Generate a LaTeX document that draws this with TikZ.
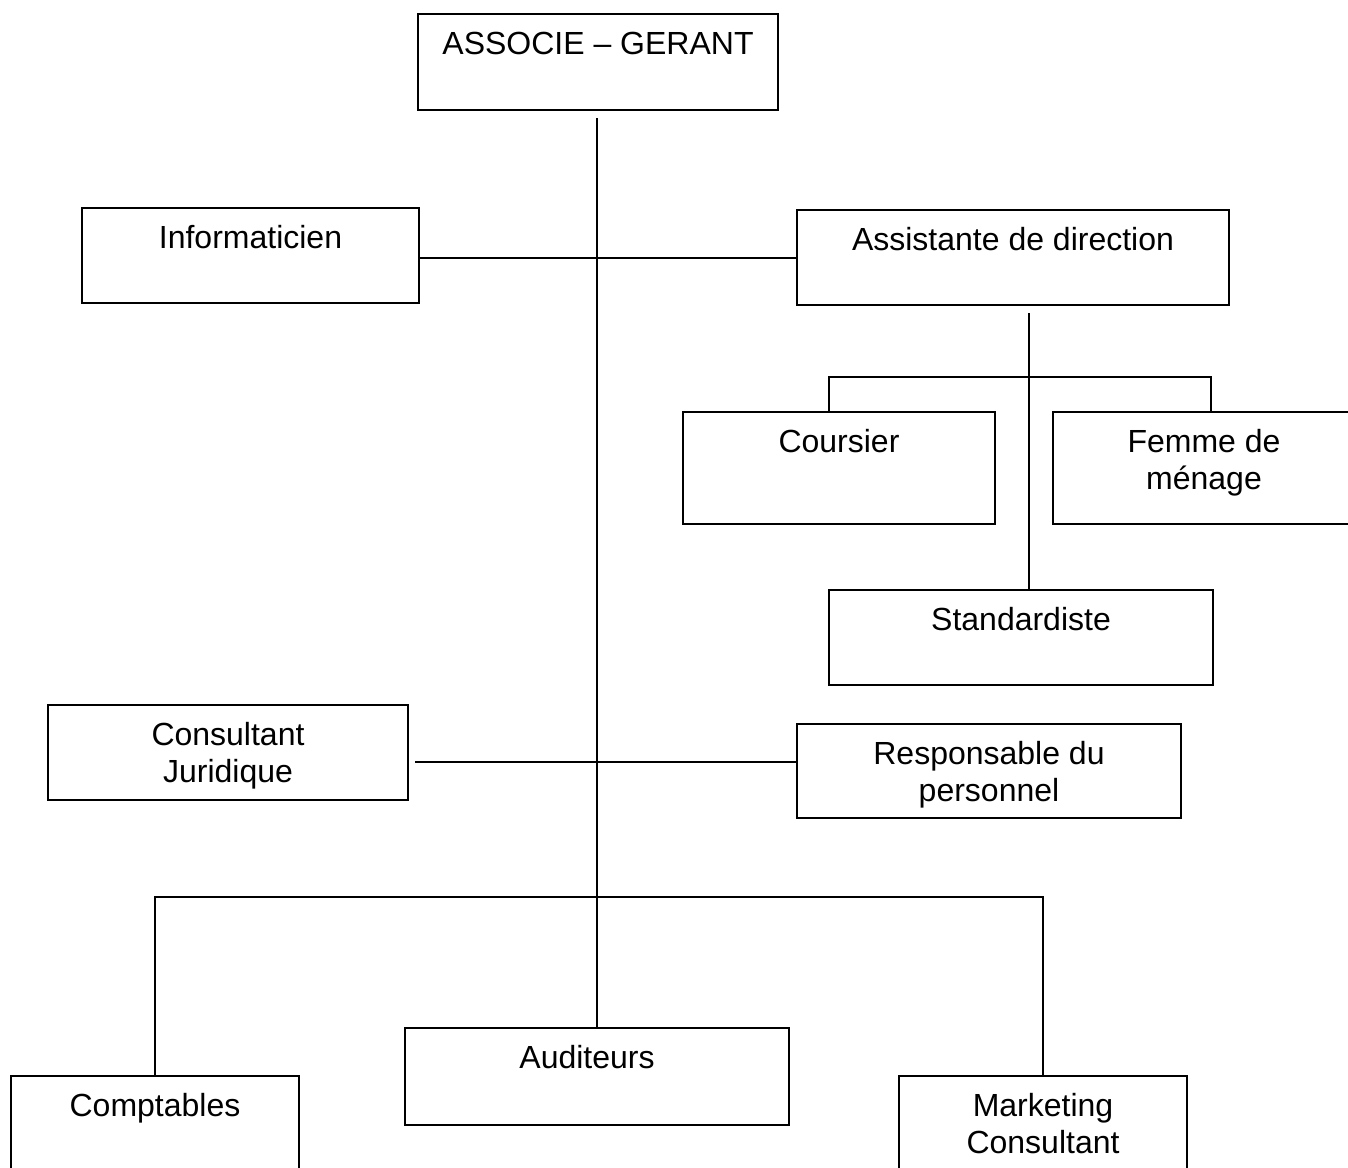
\documentclass[tikz,border=0pt]{standalone}
\usepackage{fontspec}
\setmainfont{Liberation Sans}
\usetikzlibrary{positioning, calc, fit}

\begin{document}
\begin{tikzpicture}[
    x=0.375pt, y=-0.375pt,
    font=\fontsize{12}{13.9}\selectfont,
    link/.style={line width=0.8pt, black},
    post/.style={draw, line width=0.95pt, inner sep=0pt},
    posttext/.style={anchor=north, inner sep=0pt, yshift=-6.9pt, align=center,
        font=\fontsize{12}{13.9}\selectfont},
]
\useasboundingbox (0,0) rectangle (1348,1167);

% --- direction ---
\node[post, fit={(418,14) (778,110)}, label={[posttext]north:ASSOCIE – GERANT}] (gerant) {};

% --- premier niveau ---
\node[post, fit={(82,208) (419,303)}, label={[posttext]north:Informaticien}] (info) {};
\node[post, fit={(797,210) (1229,305)}, label={[posttext]north:Assistante de direction}] (assist) {};

% --- services rattachés à l'assistante ---
\node[post, fit={(683,412) (995,524)}, label={[posttext]north:Coursier}] (coursier) {};
\node[post, fit={(1053,412) (1355,524)}, label={[posttext]north:Femme de\\ménage}] (femme) {};
\node[post, fit={(829,590) (1213,685)}, label={[posttext]north:Standardiste}] (standard) {};

% --- second niveau ---
\node[post, fit={(48,705) (408,800)}, label={[posttext]north:Consultant\\Juridique}] (juridique) {};
\node[post, fit={(797,724) (1181,818)}, label={[posttext]north:Responsable du\\personnel}] (responsable) {};

% --- équipes ---
\node[post, fit={(11,1076) (299,1200)}, label={[posttext]north:Comptables}] (comptables) {};
\node[post, fit={(405,1028) (789,1125)}, label={[posttext, xshift=-3.75pt]north:Auditeurs}] (auditeurs) {};
\node[post, fit={(899,1076) (1187,1200)}, label={[posttext]north:Marketing\\Consultant}] (marketing) {};

% liaisons
\draw[link] ($(gerant.south)+(-1,7)$) -- (auditeurs.north);
\draw[link] ($(info.east)+(0,2.5)$) -- ($(assist.west)+(0,0.5)$);
\draw[link] ($(assist.south)+(16,7)$) -- ($(standard.north)+(8,0)$);
\draw[link] ($(coursier.north)+(-10,0)$) -- ++(0,-34) -| ($(femme.north)+(7,0)$);
\draw[link] ($(juridique.east)+(6,9.5)$) -- ($(responsable.west)+(0,-9)$);
\draw[link] (comptables.north) |- ($(auditeurs.north)+(0,-130)$) -| (marketing.north);

\end{tikzpicture}
\end{document}
